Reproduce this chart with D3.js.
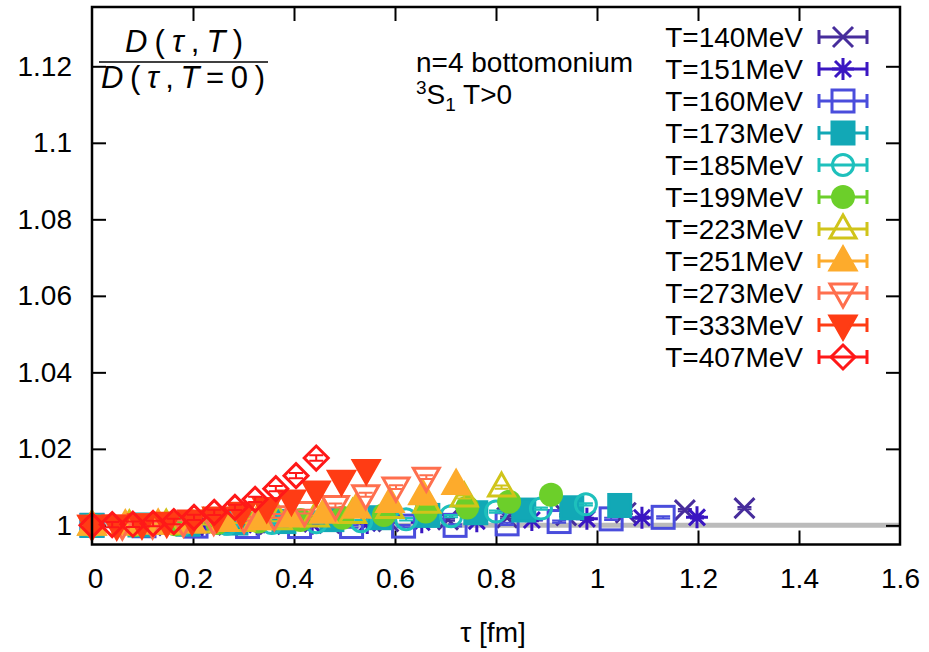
<!DOCTYPE html>
<html>
<head>
<meta charset="utf-8">
<script src="https://cdn.jsdelivr.net/npm/d3@7"></script>
<style>
  body { margin: 0; background: #fff; }
  text { font-family: "Liberation Sans", Arial, sans-serif; }
</style>
</head>
<body>
<div id="chart"></div>
<script type="text/javascript">
  // temperatures and tau points (fm), ratio values
  var temps = ["T=140MeV", "T=151MeV", "T=160MeV", "T=173MeV", "T=185MeV", "T=199MeV",
               "T=223MeV", "T=251MeV", "T=273MeV", "T=333MeV", "T=407MeV"];
  var colors = ["#472d9c", "#3a16c2", "#4a4ddc", "#12a8b6", "#1ec0bc", "#6ccf2a",
                "#d0c41a", "#fdab2c", "#ff6f4e", "#ff3c14", "#ff1818"];
  var symbols = ["cross", "star", "squareOpen", "square", "circleOpen", "circle",
                 "triUpOpen", "triUp", "triDownOpen", "triDown", "diamondOpen"];

  var tau140 = [0, 0.117, 0.235, 0.352, 0.470, 0.587, 0.705, 0.822, 0.939, 1.057, 1.174, 1.292];
  var tau151 = [0, 0.109, 0.218, 0.327, 0.436, 0.545, 0.653, 0.762, 0.871, 0.980, 1.089, 1.198];
  var tau160 = [0, 0.103, 0.206, 0.308, 0.411, 0.514, 0.617, 0.719, 0.822, 0.925, 1.028, 1.131];
  var tau173 = [0, 0.095, 0.190, 0.285, 0.380, 0.475, 0.570, 0.665, 0.760, 0.855, 0.950, 1.045];
  var tau185 = [0, 0.089, 0.178, 0.267, 0.356, 0.444, 0.533, 0.622, 0.711, 0.800, 0.889, 0.978];
  var tau199 = [0, 0.083, 0.165, 0.248, 0.330, 0.413, 0.496, 0.578, 0.661, 0.743, 0.826, 0.909];
  var tau223 = [0, 0.074, 0.147, 0.221, 0.295, 0.369, 0.442, 0.516, 0.590, 0.663, 0.737, 0.811];
  var tau251 = [0, 0.066, 0.131, 0.197, 0.262, 0.328, 0.393, 0.459, 0.524, 0.590, 0.655, 0.721];
  var tau273 = [0, 0.060, 0.120, 0.181, 0.241, 0.301, 0.361, 0.421, 0.482, 0.542, 0.602, 0.662];
  var tau333 = [0, 0.049, 0.099, 0.148, 0.198, 0.247, 0.296, 0.346, 0.395, 0.444, 0.494, 0.543];
  var tau407 = [0, 0.040, 0.081, 0.121, 0.162, 0.202, 0.242, 0.283, 0.323, 0.364, 0.404, 0.444];

  var ratio140 = [1, 1.0000, 1.0001, 1.0003, 1.0006, 1.0010, 1.0015, 1.0020, 1.0026, 1.0033, 1.0040, 1.0045];
  var ratio151 = [1, 1.0000, 1.0001, 1.0002, 1.0004, 1.0006, 1.0008, 1.0011, 1.0014, 1.0017, 1.0020, 1.0021];
  var ratio160 = [1, 0.9999, 0.9998, 0.9997, 0.9997, 0.9997, 0.9998, 1.0000, 1.0004, 1.0010, 1.0017, 1.0021];
  var ratio173 = [1, 1.0001, 1.0003, 1.0006, 1.0010, 1.0015, 1.0020, 1.0026, 1.0033, 1.0040, 1.0046, 1.0052];
  var ratio185 = [1, 1.0001, 1.0002, 1.0004, 1.0006, 1.0008, 1.0011, 1.0016, 1.0024, 1.0036, 1.0044, 1.0055];
  var ratio199 = [1, 1.0001, 1.0003, 1.0006, 1.0010, 1.0014, 1.0020, 1.0027, 1.0036, 1.0047, 1.0062, 1.0080];
  var ratio223 = [1, 1.0001, 1.0003, 1.0006, 1.0010, 1.0015, 1.0022, 1.0031, 1.0044, 1.0058, 1.0074, 1.0100];
  var ratio251 = [1, 1.0001, 1.0003, 1.0006, 1.0010, 1.0015, 1.0022, 1.0032, 1.0045, 1.0060, 1.0080, 1.0107];
  var ratio273 = [1, 1.0001, 1.0004, 1.0008, 1.0013, 1.0018, 1.0025, 1.0036, 1.0052, 1.0080, 1.0100, 1.0126];
  var ratio333 = [1, 1.0001, 1.0004, 1.0008, 1.0014, 1.0022, 1.0034, 1.0047, 1.0066, 1.0090, 1.0118, 1.0146];
  var ratio407 = [1, 1.0002, 1.0003, 1.0005, 1.0010, 1.0021, 1.0034, 1.0047, 1.0068, 1.0096, 1.0130, 1.0176];

  var errs = [0.0003, 0.0003, 0.0003, 0.0003, 0.0003, 0.0003, 0.0004, 0.0004, 0.0005, 0.0006, 0.0007];

  var xTicks = [0, 0.2, 0.4, 0.6, 0.8, 1, 1.2, 1.4, 1.6];
  var yTicks = [1, 1.02, 1.04, 1.06, 1.08, 1.1, 1.12];

  var taus = [tau140, tau151, tau160, tau173, tau185, tau199, tau223, tau251, tau273, tau333, tau407];
  var ratios = [ratio140, ratio151, ratio160, ratio173, ratio185, ratio199, ratio223, ratio251, ratio273, ratio333, ratio407];

  var series = temps.map(function(t, i) {
    return {
      label: t, color: colors[i], symbol: symbols[i], err: errs[i],
      points: taus[i].map(function(x, j) { return { x: x, y: ratios[i][j] }; })
    };
  });

  var width = 929, height = 652,
      plotLeft = 92, plotRight = 900, plotTop = 7, plotBottom = 544.5;

  var svg = d3.select("#chart").append("svg")
      .attr("width", width)
      .attr("height", height);

  var x = d3.scaleLinear().domain([0, 1.6]).range([plotLeft, plotRight]);
  var y = d3.scaleLinear().domain([0.995, 1.1355]).range([plotBottom, plotTop]);

  // reference line at 1
  svg.append("line")
      .attr("x1", x(0)).attr("x2", x(1.6))
      .attr("y1", y(1)).attr("y2", y(1))
      .attr("stroke", "#bbbbbb")
      .attr("stroke-width", 5);

  // axes with inward ticks, mirrored
  var fmt = function(d) { return String(+d.toFixed(2)); };

  var yAxis = svg.append("g")
      .attr("transform", "translate(" + plotLeft + ",0)")
      .call(d3.axisLeft(y).tickValues(yTicks).tickSize(-14).tickPadding(20).tickFormat(fmt));
  var xAxis = svg.append("g")
      .attr("transform", "translate(0," + plotBottom + ")")
      .call(d3.axisBottom(x).tickValues(xTicks).tickSize(-14).tickPadding(24).tickFormat(fmt));
  var yAxisR = svg.append("g")
      .attr("transform", "translate(" + plotRight + ",0)")
      .call(d3.axisRight(y).tickValues(yTicks).tickSize(-14).tickFormat(""));
  var xAxisT = svg.append("g")
      .attr("transform", "translate(0," + plotTop + ")")
      .call(d3.axisTop(x).tickValues(xTicks).tickSize(-14).tickFormat(""));

  [xAxis, yAxis, yAxisR, xAxisT].forEach(function(a) {
    a.select(".domain").remove();
    a.selectAll(".tick line").attr("stroke", "#000").attr("stroke-width", 2);
    a.selectAll(".tick text")
        .attr("fill", "#000")
        .style("font-family", "Liberation Sans, Arial, sans-serif")
        .style("font-size", "28px");
  });
  // no ticks at the frame corners
  [xAxis, xAxisT].forEach(function(a) {
    a.selectAll(".tick").filter(function(d) { return d === 0 || d === 1.6; }).select("line").remove();
  });
  xAxis.selectAll(".tick").filter(function(d) { return d === 0; }).select("text").attr("x", 3);

  svg.append("text")
      .attr("x", 493)
      .attr("y", 642)
      .attr("text-anchor", "middle")
      .style("font-size", "28px")
      .text("τ [fm]");

  // symbol drawing
  function drawSymbol(g, sym, color) {
    var sw = 3;
    if (sym === "cross") {
      g.append("path").attr("d", "M-10,-10L10,10M-10,10L10,-10")
        .attr("stroke", color).attr("stroke-width", sw).attr("fill", "none");
    } else if (sym === "star") {
      g.append("path").attr("d", "M-11,0L11,0M0,-11L0,11M-8,-8L8,8M-8,8L8,-8")
        .attr("stroke", color).attr("stroke-width", sw).attr("fill", "none");
    } else if (sym === "squareOpen" || sym === "square") {
      g.append("rect").attr("x", -11).attr("y", -11).attr("width", 22).attr("height", 22)
        .attr("stroke", color).attr("stroke-width", sw)
        .attr("fill", sym === "square" ? color : "none");
    } else if (sym === "circleOpen" || sym === "circle") {
      g.append("circle").attr("r", sym === "circle" ? 12 : 10.5)
        .attr("stroke", color).attr("stroke-width", sym === "circle" ? 0 : sw)
        .attr("fill", sym === "circle" ? color : "none");
    } else if (sym === "triUpOpen" || sym === "triUp") {
      g.append("path").attr("d", "M0,-14L13,9L-13,9Z")
        .attr("stroke", color).attr("stroke-width", sw)
        .attr("fill", sym === "triUp" ? color : "none");
    } else if (sym === "triDownOpen" || sym === "triDown") {
      g.append("path").attr("d", "M0,14L13,-9L-13,-9Z")
        .attr("stroke", color).attr("stroke-width", sw)
        .attr("fill", sym === "triDown" ? color : "none");
    } else if (sym === "diamondOpen") {
      g.append("path").attr("d", "M0,-12L12,0L0,12L-12,0Z")
        .attr("stroke", color).attr("stroke-width", sw).attr("fill", "none");
    }
  }

  // data points with y error bars
  var plot = svg.append("g");
  series.forEach(function(s) {
    var pts = plot.append("g").selectAll("g")
        .data(s.points)
        .enter().append("g")
          .attr("transform", function(d) { return "translate(" + x(d.x) + "," + y(d.y) + ")"; });
    pts.each(function(d) {
      var g = d3.select(this);
      var e = d.x === 0 ? 0 : y(d.y - s.err) - y(d.y);
      if (e > 0) {
        g.append("path")
          .attr("d", "M0," + (-e) + "L0," + e + "M-7," + (-e) + "L7," + (-e) + "M-7," + e + "L7," + e)
          .attr("stroke", s.color).attr("stroke-width", 2).attr("fill", "none");
      }
      drawSymbol(g, s.symbol, s.color);
    });
  });

  // frame
  svg.append("rect")
      .attr("x", plotLeft).attr("y", plotTop)
      .attr("width", plotRight - plotLeft).attr("height", plotBottom - plotTop)
      .attr("fill", "none").attr("stroke", "#000").attr("stroke-width", 2.5);

  // legend
  var legend = svg.append("g").selectAll("g")
      .data(series)
      .enter().append("g")
        .attr("transform", function(d, i) { return "translate(0," + (37 + i * 32) + ")"; });
  legend.append("text")
      .attr("x", 803)
      .attr("dy", "0.36em")
      .attr("text-anchor", "end")
      .style("font-size", "28px")
      .text(function(d) { return d.label; });
  legend.append("path")
      .attr("d", "M819,0L867,0M819,-7L819,7M867,-7L867,7")
      .attr("stroke", function(d) { return d.color; })
      .attr("stroke-width", 3)
      .attr("fill", "none");
  legend.each(function(d) {
    var g = d3.select(this).append("g").attr("transform", "translate(843,0)");
    drawSymbol(g, d.symbol, d.color);
  });

  // annotation
  svg.append("text").attr("x", 416).attr("y", 72).style("font-size", "28px")
      .text("n=4 bottomonium");
  var note2 = svg.append("text").attr("x", 416).attr("y", 104).style("font-size", "28px");
  note2.append("tspan").attr("dy", -10).style("font-size", "19px").text("3");
  note2.append("tspan").attr("dy", 10).text("S");
  note2.append("tspan").attr("dy", 7).style("font-size", "19px").text("1");
  note2.append("tspan").attr("dy", -7).text(" T>0");

  // y label as a fraction
  var frac = svg.append("g").style("font-size", "31px")
      .style("font-family", "DejaVu Serif, Liberation Serif, serif");
  var num = frac.append("text").attr("x", 125).attr("y", 52)
      .attr("textLength", 118).attr("lengthAdjust", "spacing");
  num.append("tspan").style("font-style", "italic").text("D");
  num.append("tspan").text("(");
  num.append("tspan").style("font-style", "italic").text("τ");
  num.append("tspan").text(",");
  num.append("tspan").style("font-style", "italic").text("T");
  num.append("tspan").text(")");
  frac.append("line").attr("x1", 99).attr("x2", 268).attr("y1", 62).attr("y2", 62)
      .attr("stroke", "#000").attr("stroke-width", 1.5);
  var den = frac.append("text").attr("x", 101).attr("y", 88)
      .attr("textLength", 164).attr("lengthAdjust", "spacing");
  den.append("tspan").style("font-style", "italic").text("D");
  den.append("tspan").text("(");
  den.append("tspan").style("font-style", "italic").text("τ");
  den.append("tspan").text(",");
  den.append("tspan").style("font-style", "italic").text("T");
  den.append("tspan").text("=0)");
</script>
</body>
</html>
